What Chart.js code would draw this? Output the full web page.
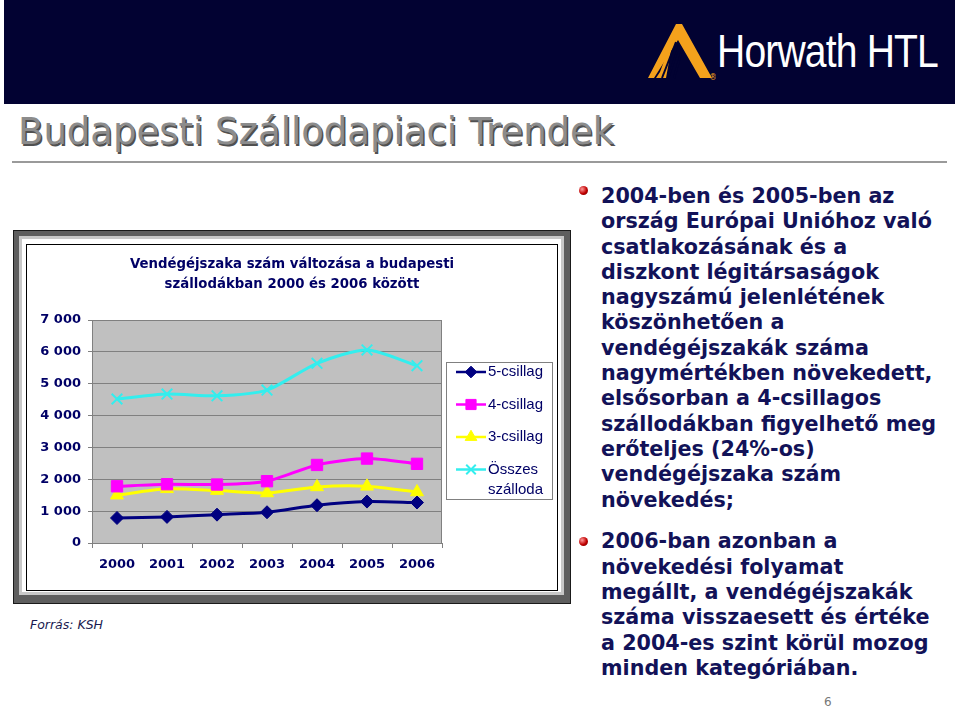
<!DOCTYPE html>
<html>
<head>
<meta charset="utf-8">
<script src="https://cdn.jsdelivr.net/npm/chart.js@4/dist/chart.umd.min.js"></script>
<style>
  body { margin: 0; width: 959px; height: 708px; background: #fff; position: relative; overflow: hidden; font-family: "DejaVu Sans", sans-serif; }
  #header { position: absolute; left: 4px; top: 0; width: 951px; height: 104px; background: #020232; }
  #brand { position: absolute; left: 717px; top: 24px; color: #fff; font-family: "Liberation Sans", sans-serif; font-size: 46px; white-space: nowrap; transform: scaleX(0.85); transform-origin: left top; letter-spacing: -1px; }
  #logo { position: absolute; left: 646px; top: 22px; }
  #title { position: absolute; left: 18px; top: 110px; font-size: 37px; color: #8c8c8c; text-shadow: 1.5px 1.5px 0 #505050; white-space: nowrap; }
  #rule { position: absolute; left: 12px; top: 161px; width: 935px; height: 2px; background: #9a9a9a; }
  #frame { position: absolute; left: 13px; top: 230px; width: 556px; height: 372px; background: #5e5e5e; border: 1px solid #1a1a1a; }
  #frame .light { position: absolute; left: 5px; top: 5px; right: 6px; bottom: 8px; background: #c8c8c8; }
  #frame .white { position: absolute; left: 8px; top: 8px; right: 9px; bottom: 11px; background: #fff; }
  #chartBox { position: absolute; left: 26px; top: 244px; width: 530px; height: 345px; border: 1px solid #000; background: #fff; }
  #source { position: absolute; left: 30px; top: 617px; font-size: 12.5px; font-style: italic; color: #1a1a50; }
  #text { position: absolute; left: 601px; top: 184px; font-size: 20.7px; font-weight: bold; color: #121258; line-height: 25.3px; white-space: nowrap; }
  #text p { margin: 0 0 16.5px 0; }
  .bullet { position: absolute; left: 579px; width: 9px; height: 9px; border-radius: 50%; background: radial-gradient(circle at 35% 35%, #ff9a9a, #c00000 55%, #600000); }
  #page { position: absolute; left: 824px; top: 695px; font-size: 12px; color: #777; }
</style>
</head>
<body>
<div id="header"></div>
<svg id="logo" width="70" height="60" viewBox="0 0 70 60">
  <polygon points="30,2 36,2 66,56 54,56 32,18 8,56 2,56" fill="#f4a11c"/>
  <polygon points="28,12 14,50 10,56 20,56" fill="#f4a11c"/>
  <line x1="30" y1="20" x2="16" y2="56" stroke="#020232" stroke-width="2"/>
  <line x1="33" y1="24" x2="22" y2="56" stroke="#020232" stroke-width="2"/>
  <line x1="36" y1="28" x2="28" y2="56" stroke="#020232" stroke-width="2"/>
  <text x="63" y="58" font-size="8" fill="#f4a11c">®</text>
</svg>
<div id="brand">Horwath HTL</div>
<div id="title">Budapesti Szállodapiaci Trendek</div>
<div id="rule"></div>
<div id="frame"><div class="light"></div><div class="white"></div></div>
<div id="chartBox"><canvas id="chart" width="530" height="345"></canvas></div>
<div id="source">Forrás: KSH</div>
<div class="bullet" style="top:186px"></div>
<div class="bullet" style="top:537px"></div>
<div id="text">
  <p>2004-ben és 2005-ben az<br>ország Európai Unióhoz való<br>csatlakozásának és a<br>diszkont légitársaságok<br>nagyszámú jelenlétének<br>köszönhetően a<br>vendégéjszakák száma<br>nagymértékben növekedett,<br>elsősorban a 4-csillagos<br>szállodákban figyelhető meg<br>erőteljes (24%-os)<br>vendégéjszaka szám<br>növekedés;</p>
  <p>2006-ban azonban a<br>növekedési folyamat<br>megállt, a vendégéjszakák<br>száma visszaesett és értéke<br>a 2004-es szint körül mozog<br>minden kategóriában.</p>
</div>
<div id="page">6</div>

<script>
// data (thousand guest nights)
const years = ["2000", "2001", "2002", "2003", "2004", "2005", "2006"];
const fiveStar = [785, 820, 890, 965, 1185, 1300, 1270];
const fourStar = [1780, 1845, 1835, 1940, 2450, 2650, 2485];
const threeStar = [1500, 1700, 1645, 1570, 1760, 1780, 1600];
const allHotels = [4520, 4675, 4620, 4800, 5640, 6060, 5565];
const seriesNames = ["5-csillag", "4-csillag", "3-csillag", ["Összes", "szálloda"]];
const titleLines = ["Vendégéjszaka szám változása a budapesti", "szállodákban 2000 és 2006 között"];
const yMax = 7000;
const yStep = 1000;

const navy = "#000066";

function spaced(v) {
  return String(v).replace(/\B(?=(\d{3})+(?!\d))/g, " ");
}

// gray plot area like the old Excel charts
const plotBackground = {
  id: "plotBackground",
  beforeDraw(chart) {
    const { ctx, chartArea: a } = chart;
    ctx.save();
    ctx.fillStyle = "#c0c0c0";
    ctx.fillRect(a.left, a.top, a.right - a.left, a.bottom - a.top);
    ctx.restore();
  },
  beforeDatasetsDraw(chart) {
    const { ctx, chartArea: a } = chart;
    ctx.save();
    ctx.strokeStyle = "#808080";
    ctx.lineWidth = 1;
    ctx.strokeRect(a.left + 0.5, a.top + 0.5, a.right - a.left - 1, a.bottom - a.top);
    ctx.restore();
  }
};

// title and boxed legend drawn by hand
const decorations = {
  id: "decorations",
  afterDraw(chart) {
    const ctx = chart.ctx;
    ctx.save();
    ctx.fillStyle = navy;
    ctx.font = "bold 13.3px 'DejaVu Sans'";
    ctx.textAlign = "center";
    ctx.textBaseline = "middle";
    titleLines.forEach((t, i) => ctx.fillText(t, chart.width / 2, 20 + i * 20));

    // legend box
    const bx = 419.5, by = 117.5, bw = 106, bh = 137;
    ctx.strokeStyle = "#808080";
    ctx.lineWidth = 1;
    ctx.strokeRect(bx, by, bw, bh);

    ctx.textAlign = "left";
    ctx.font = "15px 'Liberation Sans'";
    chart.data.datasets.forEach((ds, i) => {
      const y = 127 + i * 32.5;
      ctx.strokeStyle = ds.borderColor;
      ctx.lineWidth = 2.5;
      ctx.beginPath();
      ctx.moveTo(429, y);
      ctx.lineTo(459, y);
      ctx.stroke();
      ctx.fillStyle = ds.pointBackgroundColor;
      ctx.lineWidth = ds.pointBorderWidth || 1;
      Chart.helpers.drawPoint(ctx, {
        pointStyle: ds.pointStyle,
        radius: ds.pointRadius * 0.9,
        borderWidth: ds.pointBorderWidth || 1
      }, 444, y);
      ctx.fillStyle = navy;
      const label = seriesNames[i];
      const lines = Array.isArray(label) ? label : [label];
      lines.forEach((l, j) => ctx.fillText(l, 461, y + j * 20));
    });
    ctx.restore();
  }
};

function series(label, data, color, style, radius) {
  return {
    label: label,
    data: data,
    borderColor: color,
    backgroundColor: color,
    pointBackgroundColor: color,
    pointBorderColor: color,
    borderWidth: 3,
    pointStyle: style,
    pointRadius: radius,
    pointBorderWidth: style === "crossRot" ? 2 : 1,
    tension: 0.25
  };
}

const ctx = document.getElementById("chart").getContext("2d");
new Chart(ctx, {
  type: "line",
  data: {
    labels: years,
    datasets: [
      series("5-csillag", fiveStar, "#000080", "rectRot", 6.5),
      series("4-csillag", fourStar, "#ff00ff", "rect", 8),
      series("3-csillag", threeStar, "#ffff00", "triangle", 7.5),
      series("Összes szálloda", allHotels, "#33eeee", "crossRot", 7.5)
    ]
  },
  options: {
    responsive: false,
    animation: false,
    devicePixelRatio: 1,
    layout: { padding: { left: 0, top: 75, right: 115, bottom: 0 } },
    plugins: {
      legend: { display: false },
      title: { display: false },
      tooltip: { enabled: false }
    },
    scales: {
      x: {
        offset: true,
        afterFit(scale) { scale.height = 47; },
        grid: { offset: true, drawOnChartArea: false, color: "#808080", tickLength: 5 },
        border: { display: false },
        ticks: {
          color: navy,
          padding: 9,
          maxRotation: 0,
          font: { family: "DejaVu Sans", size: 13, weight: "bold" }
        }
      },
      y: {
        min: 0,
        max: yMax,
        afterFit(scale) { scale.width = 65; },
        grid: { color: "#808080", tickLength: 4 },
        border: { display: false },
        ticks: {
          stepSize: yStep,
          color: navy,
          padding: 7,
          font: { family: "DejaVu Sans", size: 13, weight: "bold" },
          callback: (v) => spaced(v)
        }
      }
    }
  },
  plugins: [plotBackground, decorations]
});
</script>
</body>
</html>
